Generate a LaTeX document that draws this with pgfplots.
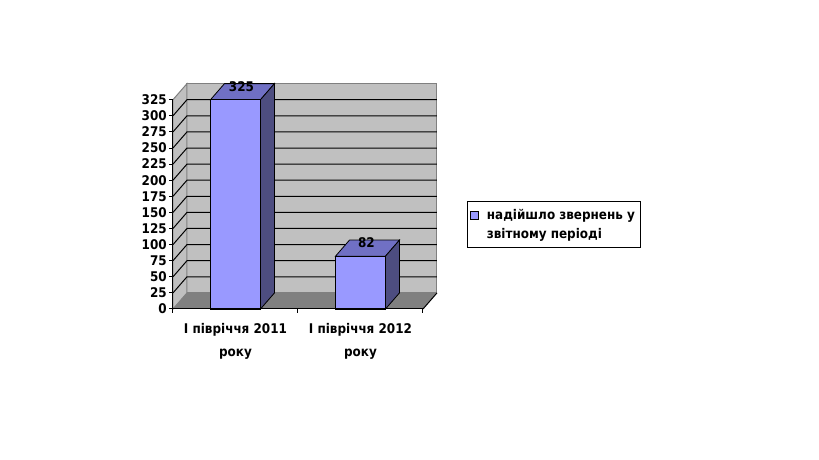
\documentclass[border=0pt]{standalone}
\usepackage{pgfplots}
\pgfplotsset{compat=1.18}
\usepackage{pgfplotstable}
\usepackage{fontspec}
\setmainfont{DejaVu Sans Condensed}
\definecolor{barfront}{RGB}{153,153,255}
\definecolor{bartop}{RGB}{112,112,196}
\definecolor{barside}{RGB}{77,77,128}
\definecolor{wallgray}{RGB}{192,192,192}
\definecolor{floorgray}{RGB}{128,128,128}
\pgfplotstableread{
x y
0.5 325
1.5 82
}\data
\begin{document}
\begin{tikzpicture}[font=\bfseries\fontsize{10}{12}\selectfont]
\path[use as bounding box] (-129.75pt,-113.25pt) rectangle (484.5pt,231.75pt);
\begin{axis}[
  scale only axis, width=198pt, height=169.05pt,
  xmin=0, xmax=2.112, ymin=0, ymax=350,
  clip=false,
  axis line style={draw=none},
  tick style={draw=none},
  /pgf/number format/assume math mode=true,
  ytick={0,25,...,325},
  yticklabel style={anchor=east, inner sep=0pt, xshift=-4.5pt},
  xtick={0.5,1.5},
  xticklabels={{І півріччя 2011\\[5pt]року},{І півріччя 2012\\[5pt]року}},
  xticklabel style={anchor=north, align=center, inner sep=0pt, yshift=-10.5pt},
  legend style={at={(axis description cs:1.1136,0.477)}, anchor=north west,
    draw=black, line width=0.75pt, inner xsep=2pt, inner ysep=3pt,
    font=\bfseries\fontsize{10}{12}\selectfont},
  legend cell align=left,
]
% walls and floor
\addplot[fill=wallgray, draw=floorgray, line width=0.75pt, forget plot] coordinates {(0.112,25)(2.112,25)(2.112,350)(0.112,350)} -- cycle;
\addplot[fill=wallgray, draw=floorgray, line width=0.75pt, forget plot] coordinates {(0,0)(0.112,25)(0.112,350)(0,325)} -- cycle;
\addplot[fill=floorgray, draw=none, forget plot] coordinates {(0,0)(2,0)(2.112,25)(0.112,25)} -- cycle;
\addplot[black, line width=0.75pt, forget plot] coordinates {(2,0)(2.112,25)};
% gridlines on back wall and side wall
\pgfplotsinvokeforeach{25,50,...,300}{
  \addplot[black, line width=0.75pt, forget plot] coordinates {(0,#1)(0.112,#1+25)(2.112,#1+25)};
}
% bars: top and side faces
\addplot[fill=bartop, draw=black, line width=0.6pt, forget plot] coordinates {(0.3,325)(0.7,325)(0.812,350)(0.412,350)} -- cycle;
\addplot[fill=barside, draw=black, line width=0.6pt, forget plot] coordinates {(0.7,0)(0.812,25)(0.812,350)(0.7,325)} -- cycle;
\addplot[fill=bartop, draw=black, line width=0.6pt, forget plot] coordinates {(1.3,82)(1.7,82)(1.812,107)(1.412,107)} -- cycle;
\addplot[fill=barside, draw=black, line width=0.6pt, forget plot] coordinates {(1.7,0)(1.812,25)(1.812,107)(1.7,82)} -- cycle;
% bars: front faces
\addplot[ybar, bar width=0.4, bar shift=0pt, fill=barfront, draw=black, line width=0.6pt,
  legend image code/.code={\draw[fill=barfront,draw=black,line width=0.5pt] (3.5pt,4pt) rectangle (9.5pt,10pt); \path (13.5pt,7pt);}]
  table[x=x,y=y] {\data};
\addlegendentry{\begin{tabular}[b]{@{}l@{}}надійшло звернень у\\[2pt]звітному періоді\end{tabular}}
% data labels
\addplot[draw=none, mark=none, forget plot, nodes near coords,
  nodes near coords style={anchor=center, xshift=4.5pt, yshift=10pt, inner sep=0pt,
    font=\bfseries\fontsize{10}{12}\selectfont}]
  table[x=x,y=y] {\data};
% axis lines and tick marks
\addplot[black, line width=0.75pt, forget plot] coordinates {(0,0)(0,325)};
\addplot[black, line width=0.75pt, forget plot] coordinates {(0,0)(2,0)};
\addplot[xcomb, black, line width=0.75pt, mark=none, forget plot] coordinates {
(-0.032,0)(-0.032,25)(-0.032,50)(-0.032,75)(-0.032,100)(-0.032,125)(-0.032,150)
(-0.032,175)(-0.032,200)(-0.032,225)(-0.032,250)(-0.032,275)(-0.032,300)(-0.032,325)};
\addplot[ycomb, black, line width=0.75pt, mark=none, forget plot] coordinates {(0,-6.2)(1,-6.2)(2,-6.2)};
\end{axis}
\end{tikzpicture}
\end{document}
